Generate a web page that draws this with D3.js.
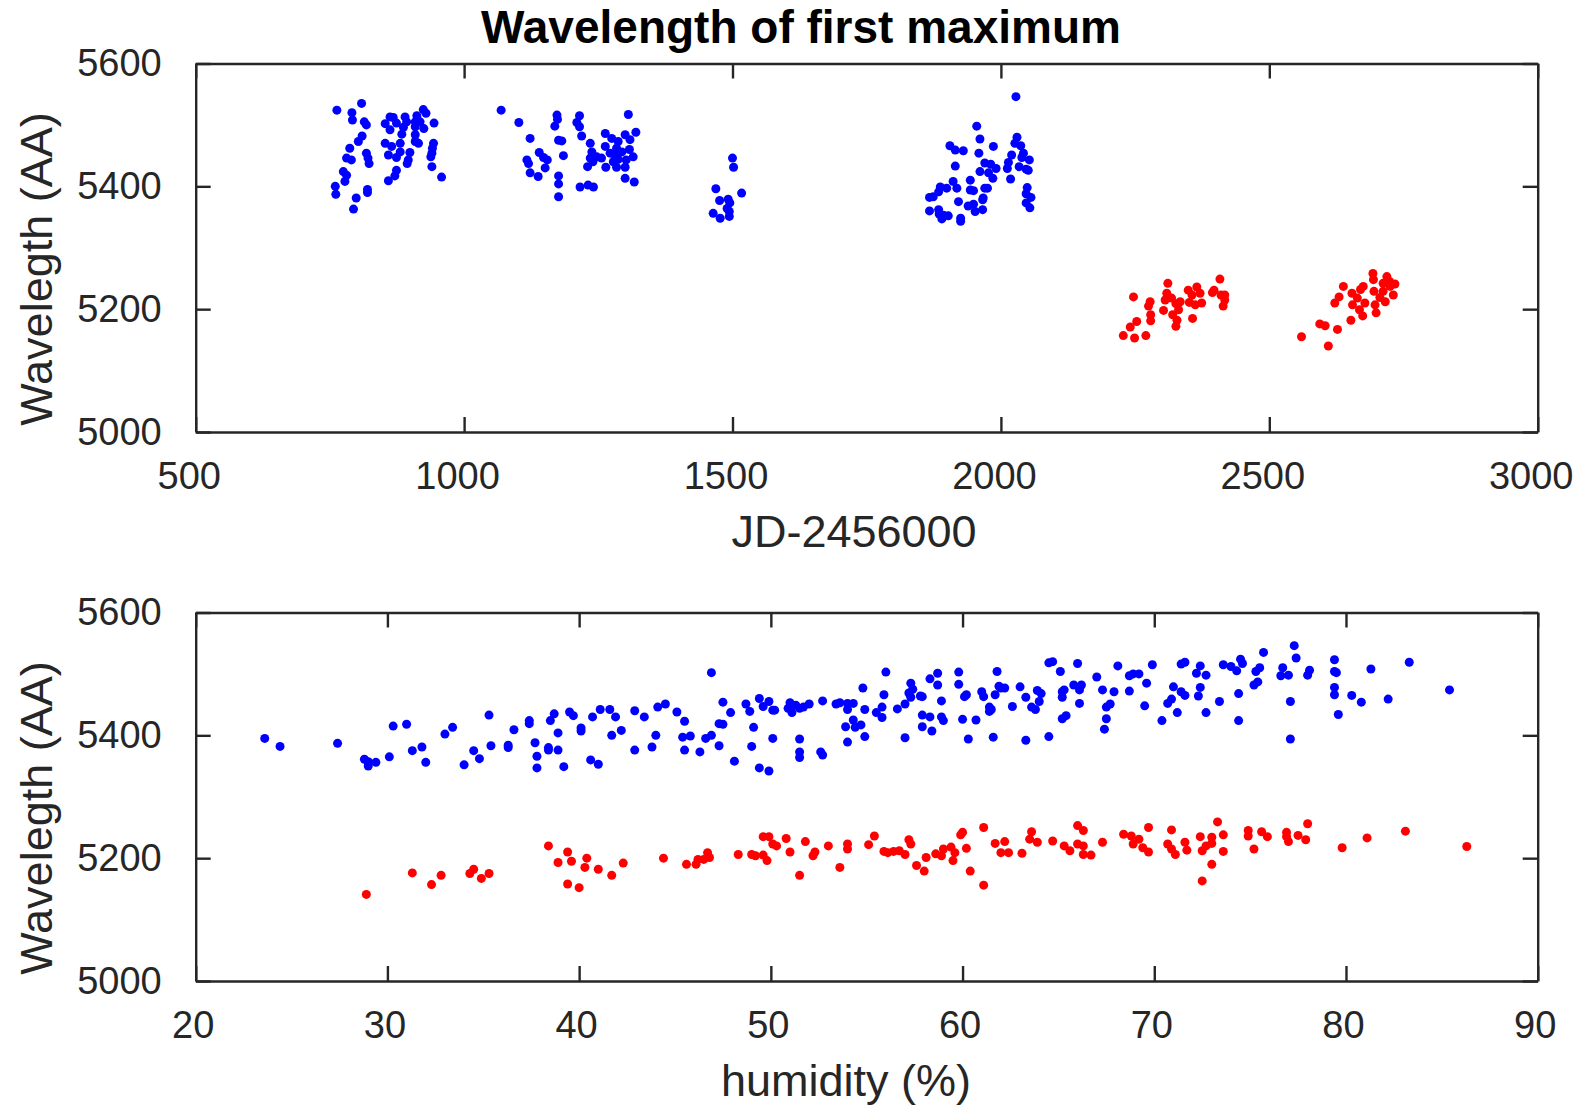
<!DOCTYPE html>
<html>
<head>
<meta charset="utf-8">
<script src="https://cdn.jsdelivr.net/npm/d3@7"></script>
<style>
  html, body { margin: 0; padding: 0; background: #ffffff; }
  svg { display: block; }
  text { font-family: "Liberation Sans", Arial, Helvetica, sans-serif; fill: #262626; }
</style>
</head>
<body>
<svg id="chart" width="1584" height="1107"></svg>
<script>
// ---------------- DATA ----------------
const chartTitle = "Wavelength of first maximum";
const topXLabel = "JD-2456000";
const bottomXLabel = "humidity (%)";
const yLabel = "Wavelegth (AA)";

const topXTicks = [500, 1000, 1500, 2000, 2500, 3000];
const bottomXTicks = [20, 30, 40, 50, 60, 70, 80, 90];
const yTicks = [5000, 5200, 5400, 5600];

// Top panel: [JD-2456000, wavelength]
const jdBlue = [
  [763,5524],[809,5535],[791,5520],[792,5508],[814,5505],[818,5500],[810,5482],[803,5473],[787,5462],[781,5446],[790,5443],[818,5454],[821,5446],[823,5437],[775,5424],[781,5418],[778,5408],[760,5400],[761,5387],[799,5381],[794,5363],[820,5395],[820,5390],
  [853,5502],[862,5513],[868,5512],[862,5492],[874,5503],[890,5513],[893,5505],[884,5485],[887,5496],[912,5515],[924,5525],[929,5519],[909,5505],[918,5505],[925,5494],[944,5503],[909,5497],
  [853,5470],[865,5465],[881,5470],[859,5451],[874,5447],[881,5456],[899,5455],[896,5443],[894,5437],[909,5484],[909,5473],[915,5470],[943,5470],[941,5462],[940,5454],[938,5448],[940,5432],[958,5415],[874,5426],[871,5417],[859,5409],
  [1069,5524],[1102,5504],[1123,5478],[1117,5443],[1120,5437],[1123,5422],[1138,5416],[1140,5455],[1148,5447],[1155,5443],[1151,5430],[1173,5516],[1174,5509],[1169,5498],[1176,5475],[1182,5474],[1185,5450],[1176,5417],[1176,5404],[1176,5383],[1215,5515],[1210,5504],[1215,5497],[1219,5482],[1216,5399],[1231,5402],[1241,5399],[1235,5470],[1238,5456],[1235,5446],[1230,5432],[1240,5440],[1247,5448],[1256,5446],[1263,5486],[1263,5465],[1275,5478],[1272,5454],[1264,5431],[1306,5517],[1320,5488],[1300,5484],[1309,5476],[1287,5473],[1284,5462],[1294,5456],[1308,5460],[1315,5448],[1287,5444],[1302,5443],[1284,5431],[1300,5431],[1300,5413],[1317,5407],[1278,5440],[1281,5451],
  [1500,5446],[1502,5431],[1469,5396],[1517,5389],[1476,5377],[1492,5379],[1495,5373],[1490,5364],[1464,5356],[1477,5348],[1494,5351],[1494,5359],
  [2028,5546],[1955,5498],[1961,5477],[1905,5466],[1915,5459],[1930,5458],[1959,5454],[1986,5465],[1915,5433],[1970,5438],[1981,5436],[1991,5429],[1977,5422],[1961,5424],[1985,5413],[1943,5410],[1911,5408],[1918,5397],[1887,5399],[1884,5391],[1899,5397],[1874,5383],[1867,5382],[1943,5394],[1949,5393],[1970,5397],[1975,5397],[1967,5381],[1966,5378],[1921,5375],[1939,5368],[1949,5371],[1952,5359],[1966,5362],[1867,5360],[1884,5362],[1885,5355],[1893,5353],[1902,5352],[1890,5347],[1925,5348],[1925,5343],
  [2030,5480],[2026,5470],[2037,5466],[2042,5454],[2039,5447],[2020,5451],[2014,5439],[2012,5429],[2018,5412],[2053,5443],[2051,5426],[2034,5432],[2047,5428],[2049,5398],[2047,5388],[2056,5382],[2047,5373],[2054,5365]
];
const jdRed = [
  [2228,5157],[2249,5153],[2270,5157],[2241,5171],[2253,5180],[2247,5220],[2275,5205],[2278,5212],[2279,5191],[2279,5181],[2303,5198],[2306,5215],[2309,5226],[2311,5242],[2318,5218],[2326,5209],[2320,5191],[2328,5182],[2326,5172],[2334,5212],[2331,5199],[2349,5231],[2356,5223],[2365,5236],[2371,5226],[2351,5211],[2362,5207],[2374,5210],[2357,5185],[2394,5227],[2397,5231],[2408,5249],[2410,5223],[2417,5223],[2417,5215],[2414,5205],
  [2560,5155],[2610,5140],[2594,5176],[2604,5173],[2627,5167],[2652,5182],[2622,5210],[2630,5220],[2638,5237],[2654,5226],[2655,5207],[2664,5218],[2670,5232],[2674,5189],[2668,5199],[2678,5210],[2693,5258],[2694,5248],[2695,5229],[2697,5207],[2699,5194],[2706,5219],[2712,5242],[2719,5253],[2725,5237],[2731,5223],[2734,5241],[2716,5212],[2724,5245],[2712,5229],[2675,5237]
];

// Bottom panel: [humidity %, wavelength]
const humBlue = [
  [23.6,5395],[24.4,5382],[27.4,5387],[28.8,5361],[29.0,5357],[29.0,5350],[29.4,5356],[30.1,5365],[30.3,5415],[31.0,5418],[31.3,5375],[31.8,5381],[32.0,5356],[33.0,5402],[33.4,5413],[34.0,5352],[34.5,5375],[34.8,5362],[35.3,5433],[35.4,5383],[36.3,5384],[36.3,5380],[36.6,5409],[37.4,5424],[37.4,5419],[37.7,5388],[37.8,5366],[37.8,5347],[38.4,5380],[38.4,5376],[38.9,5376],[38.5,5424],[38.7,5435],[38.9,5404],[39.2,5349],[39.5,5438],[39.7,5432],[40.1,5412],[40.1,5407],[40.6,5360],[41.0,5353],[40.7,5430],[41.1,5442],[41.6,5442],[41.9,5430],[41.7,5400],[42.2,5408],
  [42.9,5440],[43.4,5430],[42.9,5376],[43.8,5381],[44.0,5400],[44.1,5446],[44.5,5451],[45.1,5438],[45.5,5423],[45.4,5397],[45.8,5399],[45.5,5376],[46.3,5373],[46.6,5395],[46.9,5400],[46.9,5502],[47.3,5383],[47.3,5419],[47.5,5418],[47.5,5454],[47.9,5437],[48.1,5358],[48.7,5451],[48.9,5439],[49.1,5413],[49.0,5382],[49.4,5347],[49.9,5342],[49.4,5460],[49.6,5447],[49.9,5455],[50.1,5441],[50.2,5441],[50.1,5395],[51.0,5453],[50.9,5444],[51.1,5437],[51.3,5449],[51.5,5444],[51.7,5446],[52.0,5451],[51.5,5394],[51.5,5373],[51.5,5364],[52.7,5456],[52.6,5373],[52.7,5368],[53.4,5451],[53.6,5453],[54.0,5452],[54.3,5452],[54.0,5442],[54.8,5477],[54.9,5442],[54.3,5425],[53.9,5414],[54.4,5413],[54.7,5417],[54.0,5389],[54.9,5398],[55.5,5437],[55.8,5446],[55.8,5429],[55.9,5466],[56.0,5503],[56.6,5443],[57.0,5451],[57.0,5396],[57.2,5469],[57.3,5485],[57.4,5475],[57.3,5462],[57.8,5464],[57.9,5463],[57.9,5433],[58.3,5430],[57.9,5414],[58.4,5407],[58.3,5492],[58.7,5482],[58.7,5501],[58.9,5456],[58.9,5430],[59.0,5424],[59.8,5503],[59.8,5483],[60.0,5426],[60.1,5463],[60.2,5466],[60.3,5394],[60.7,5425],[61.0,5471],[61.1,5463],[61.4,5446],[61.4,5439],[61.5,5442],[61.6,5397],[61.7,5466],[61.9,5480],[61.8,5504],[62.0,5477],[62.2,5477],[62.6,5447],[63.0,5479],[63.3,5462],[63.3,5392],[63.6,5446],[63.8,5442],[63.9,5473],[64.0,5455],[64.1,5468],[64.5,5398],[64.5,5518],[64.7,5520],[65.1,5504],[65.2,5471],[65.2,5462],[65.3,5474],[65.2,5427],[65.4,5432],[65.8,5482],[66.0,5517],[66.1,5474],[66.1,5452],
  [66.2,5482],[67.0,5495],[67.3,5474],[67.9,5471],[67.5,5446],[67.7,5451],[67.5,5427],[67.4,5410],[68.1,5513],[68.7,5497],[68.9,5500],[69.2,5500],[68.7,5472],[69.6,5485],[69.5,5448],[69.9,5515],[70.4,5424],[70.7,5452],[70.9,5459],[71.0,5479],[71.2,5437],[71.4,5516],[71.6,5519],[71.4,5471],[71.6,5465],[72.2,5501],[72.4,5513],[72.7,5498],[72.4,5478],[72.3,5464],[72.7,5437],[73.4,5455],[73.6,5515],[74.0,5512],[74.3,5505],[74.5,5524],[74.6,5517],[74.4,5468],[74.4,5424],[75.2,5482],[75.4,5487],[75.3,5504],[75.5,5510],[75.7,5535],[76.7,5510],[76.6,5497],[77.0,5498],[77.3,5546],[77.4,5526],[77.1,5455],[77.1,5394],[78.0,5498],[78.1,5506],[79.4,5523],[79.4,5504],[79.5,5502],[79.4,5478],[79.4,5466],[79.6,5434],[80.3,5465],[80.8,5454],[81.3,5508],[82.2,5459],[83.3,5519],[85.4,5474]
];
const humRed = [
  [28.9,5141],[31.3,5176],[32.3,5157],[32.8,5172],[34.3,5175],[34.5,5182],[34.9,5167],[35.3,5175],[38.4,5220],[38.9,5193],[39.4,5210],[39.6,5195],[39.4,5158],[40.0,5152],[40.4,5200],[40.3,5185],[41.0,5182],[41.7,5172],[42.3,5192],[44.4,5200],[45.6,5190],[46.1,5190],[46.2,5198],[46.5,5198],[46.7,5209],[46.8,5201],[48.3,5206],[49.0,5206],[49.2,5204],[49.6,5235],[49.9,5235],[49.6,5205],[49.8,5196],[50.1,5223],[50.3,5220],[50.8,5232],[51.0,5210],[51.5,5172],[51.8,5227],[52.3,5210],[52.2,5204],[53.0,5220],[53.6,5185],[54.0,5223],[54.0,5215],
  [55.1,5222],[55.4,5236],[55.9,5211],[56.1,5209],[56.4,5211],[56.7,5212],[57.0,5206],[57.2,5230],[57.3,5223],[57.6,5188],[58.0,5179],[58.1,5201],[58.6,5207],[58.9,5204],[59.0,5215],[59.4,5218],[59.6,5209],[59.5,5196],[59.9,5238],[60.0,5242],[60.2,5216],[60.4,5179],[61.1,5250],[61.1,5156],[61.7,5224],[62.2,5227],[62.0,5209],[62.4,5209],[63.1,5208],[63.6,5243],[63.5,5231],[63.9,5226],[64.7,5228],[65.3,5220],[65.6,5212],[66.0,5253],[66.3,5245],[66.0,5223],[66.3,5220],[66.3,5206],[66.7,5205],[67.3,5226],[68.4,5239],[68.8,5236],[68.9,5223],[69.2,5231],[69.4,5217],[69.7,5210],[69.7,5250],[70.9,5246],[70.7,5223],[70.9,5215],[71.1,5206],[71.6,5226],[71.7,5213],[72.4,5235],[72.5,5212],[72.7,5220],[73.0,5224],[73.0,5234],[73.3,5259],[73.6,5238],[73.6,5211],[73.0,5190],[72.5,5163],[74.9,5245],[74.9,5236],[75.2,5215],[75.6,5243],[75.9,5235],[76.9,5242],[76.9,5235],[77.0,5227],[77.5,5237],[78.0,5256],[77.9,5230],[79.8,5217],[81.1,5233],[83.1,5244],[86.3,5219]
];

// ---------------- LAYOUT ----------------
const svg = d3.select("#chart");
const axisColor = "#262626";
const left = 195.7, right = 1537.7;
const panels = [
  { top: 63.5, bottom: 432, xDomain: [500, 3000], xTicks: topXTicks, blue: jdBlue, red: jdRed,
    xLabel: topXLabel, xLabelX: 854, xLabelY: 547, yLabelY: 269, tickDx: -7 },
  { top: 612.5, bottom: 981, xDomain: [20, 90], xTicks: bottomXTicks, blue: humBlue, red: humRed,
    xLabel: bottomXLabel, xLabelX: 846, xLabelY: 1096, yLabelY: 818, tickDx: -3 }
];

panels.forEach(p => {
  const x = d3.scaleLinear().domain(p.xDomain).range([left, right]);
  const y = d3.scaleLinear().domain([5000, 5600]).range([p.bottom, p.top]);
  const g = svg.append("g");

  // points
  g.append("g").selectAll("circle").data(p.blue).join("circle")
    .attr("cx", d => x(d[0])).attr("cy", d => y(d[1])).attr("r", 4.5).attr("fill", "#0000ff");
  g.append("g").selectAll("circle").data(p.red).join("circle")
    .attr("cx", d => x(d[0])).attr("cy", d => y(d[1])).attr("r", 4.5).attr("fill", "#ff0000");

  const tick = 15;
  const styleAxis = sel => {
    sel.selectAll("path.domain").attr("stroke", axisColor).attr("stroke-width", 2.4);
    sel.selectAll(".tick line").attr("stroke", axisColor).attr("stroke-width", 2.4);
    sel.selectAll(".tick text").style("font-size", "38px").attr("fill", axisColor)
      .style("font-family", "'Liberation Sans', Arial, Helvetica, sans-serif");
  };

  g.append("g").attr("transform", `translate(0,${p.bottom})`)
    .call(d3.axisBottom(x).tickValues(p.xTicks).tickFormat(d3.format("d")).tickSize(-tick).tickSizeOuter(0).tickPadding(30))
    .call(styleAxis)
    .call(a => a.selectAll(".tick text").attr("dx", p.tickDx));
  g.append("g").attr("transform", `translate(0,${p.top})`)
    .call(d3.axisTop(x).tickValues(p.xTicks).tickFormat("").tickSize(-tick).tickSizeOuter(0))
    .call(styleAxis);
  g.append("g").attr("transform", `translate(${left},0)`)
    .call(d3.axisLeft(y).tickValues(yTicks).tickFormat(d3.format("d")).tickSize(-tick).tickSizeOuter(0).tickPadding(34))
    .call(styleAxis);
  g.append("g").attr("transform", `translate(${right},0)`)
    .call(d3.axisRight(y).tickValues(yTicks).tickFormat("").tickSize(-tick).tickSizeOuter(0))
    .call(styleAxis);

  // axis labels
  g.append("text").attr("x", p.xLabelX).attr("y", p.xLabelY)
    .attr("text-anchor", "middle").style("font-size", "45px").text(p.xLabel);
  g.append("text").attr("transform", `translate(52,${p.yLabelY}) rotate(-90)`)
    .attr("text-anchor", "middle").style("font-size", "45px").text(yLabel);
});

svg.append("text").attr("x", 801).attr("y", 43)
  .attr("text-anchor", "middle").style("font-size", "46px").style("font-weight", "bold")
  .style("fill", "#000").text(chartTitle);
</script>
</body>
</html>
